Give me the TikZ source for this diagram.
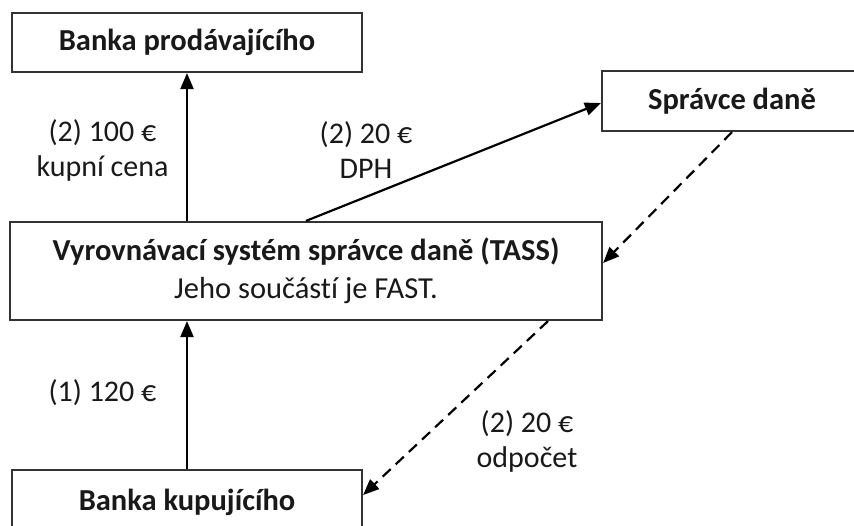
\documentclass[tikz,border=0pt]{standalone}
\usepackage{fontspec}
\setmainfont{Carlito}[Ligatures=NoCommon]
\usetikzlibrary{arrows.meta,calc}
\tikzset{
  box/.style={draw=black!80, line width=2.2pt, fill=white, inner sep=0pt, align=center},
  lbl/.style={align=center, font=\fontsize{30}{35}\selectfont, text=black!90},
  ttl/.style={font=\fontsize{30.5}{36}\selectfont\bfseries, text=black!90},
  arr/.style={line width=2.2pt, -{Triangle[length=16pt,width=13pt]}},
  darr/.style={arr, dash pattern=on 11pt off 7pt}
}
\begin{document}
\begin{tikzpicture}[x=1pt,y=-1pt]
\useasboundingbox (0,0) rectangle (854,525);
\node[box, ttl, minimum width=350pt, minimum height=59pt] (bp) at (187,42.5) {Banka prodávajícího};
\node[box, ttl, minimum width=260pt, minimum height=60pt] (sd) at (732,101) {Správce daně};
\node[box, minimum width=592pt, minimum height=98pt, text=black!90, font=\fontsize{30.5}{38}\selectfont] (tass) at (306,271) {\textbf{Vyrovnávací systém správce daně (TASS)}\\Jeho součástí je FAST.};
\node[box, ttl, minimum width=350pt, minimum height=64pt] (bk) at (187,502) {Banka kupujícího};
\coordinate (tassTop) at (tass.north -| bp.south);
\coordinate (tassBot) at (tass.south -| bk.north);
\coordinate (tassE) at ([yshift=8pt]tass.east);
\coordinate (tassS) at ([xshift=242pt]tass.south);
\coordinate (bkE) at ([yshift=7pt]bk.east);
\draw[arr] (tassTop) -- (bp.south);
\draw[arr] (bk.north) -- (tassBot);
\draw[arr] (tass.north) -- ([yshift=-2pt]sd.west);
\draw[darr] (sd.south) -- (tassE);
\draw[darr] (tassS) -- (bkE);
\node[lbl] (l1) at (102.5,150) {(2) 100 €\\kupní cena};
\node[lbl] (l2) at (366,150) {(2) 20 €\\DPH};
\node[lbl] (l3) at (102.5,393) {(1) 120 €};
\node[lbl] (l4) at (527,441) {(2) 20 €\\odpočet};
\end{tikzpicture}
\end{document}
